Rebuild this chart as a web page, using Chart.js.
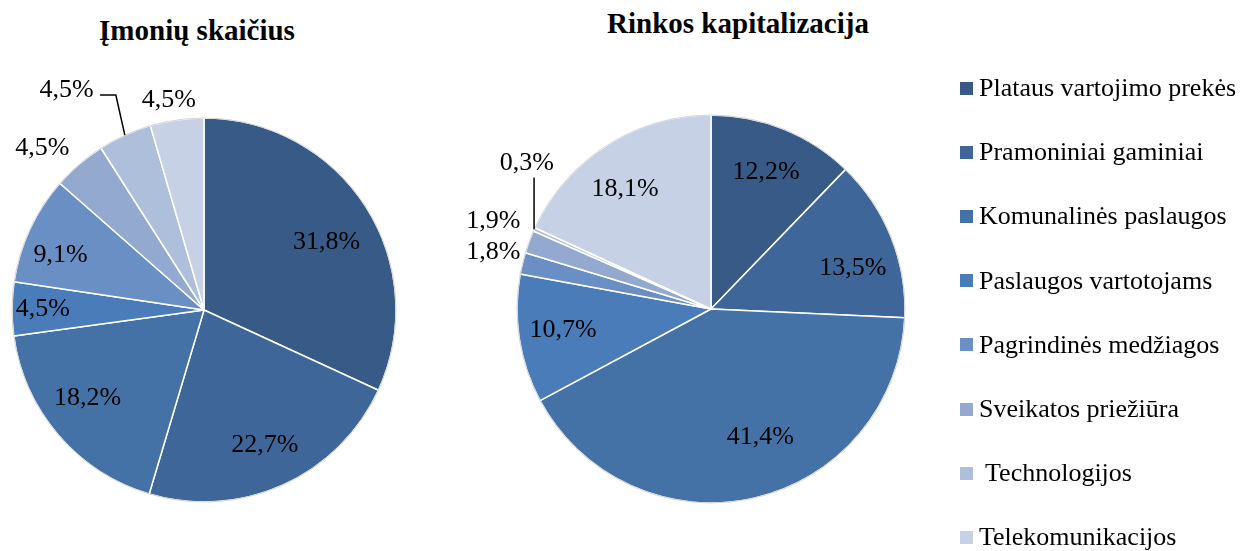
<!DOCTYPE html>
<html>
<head>
<meta charset="utf-8">
<script src="https://cdn.jsdelivr.net/npm/chart.js@4.4.0/dist/chart.umd.min.js"></script>
<style>
  body { margin: 0; background: #fff; width: 1244px; height: 551px; overflow: hidden; position: relative;
         font-family: "Liberation Serif", "Times New Roman", serif; color: #000; }
  .title { position: absolute; font-weight: bold; font-size: 29px; line-height: 29px; white-space: nowrap; transform: translateX(-50%); }
  #leftBox { position: absolute; left: 0; top: 0; width: 408px; height: 551px; }
  #rightBox { position: absolute; left: 460px; top: 0; width: 502px; height: 551px; }
  .legendItem { position: absolute; left: 960px; height: 30px; display: flex; align-items: center; font-size: 26px; line-height: 30px; white-space: pre; }
  .legendItem span.box { width: 13px; height: 13px; margin-right: 6px; flex: none; }
</style>
</head>
<body>
<div class="title" style="left:197px; top:16px;">Įmonių skaičius</div>
<div class="title" style="left:738px; top:9px;">Rinkos kapitalizacija</div>
<div id="leftBox"><canvas id="leftChart"></canvas></div>
<div id="rightBox"><canvas id="rightChart"></canvas></div>
<div id="legend"></div>

<script>
// duomenys
const categories = ['Plataus vartojimo prekės', 'Pramoniniai gaminiai', 'Komunalinės paslaugos',
    'Paslaugos vartotojams', 'Pagrindinės medžiagos', 'Sveikatos priežiūra', ' Technologijos', 'Telekomunikacijos'];
const imoniuSkaicius = [31.8, 22.7, 18.2, 4.5, 9.1, 4.5, 4.5, 4.5];
const rinkosKapitalizacija = [12.2, 13.5, 41.4, 10.7, 1.8, 1.9, 0.3, 18.1];
const sliceColors = ['#375a86', '#3e6699', '#4472a7', '#4a7cb9', '#6a8fc5', '#93a9d0', '#aebfdc', '#c7d1e5'];

// etikečių vietos: rf - atstumas nuo centro spindulio dalimis, ang - kampas nuo viršaus (laipsniais)
const leftPlaces = [
    { rf: 0.73, ang: 61 }, { rf: 0.77 }, { rf: 0.76, ang: 233 }, { rf: 0.84 }, { rf: 0.80, ang: 291 },
    { rf: 1.19, ang: 315 },
    { rf: 1.35, ang: 328, leader: [[1.0, null], [1.21, 337.7], [1.244, 334.2]] },
    { rf: 1.11, ang: 350.5 }
];
const rightPlaces = [
    { rf: 0.76 }, { rf: 0.76, ang: 74 }, { rf: 0.71, ang: 159 }, { rf: 0.77, ang: 262 },
    { rf: 1.16, ang: 284.6 }, { rf: 1.21, ang: 292 },
    { rf: 1.209, ang: 308.3, leader: [[1.0, null], [1.136, 306.6]] },
    { rf: 0.76, ang: 324.3 }
];

// procentų etiketės ir išorinis pilkas kontūras
const pieLabels = {
    id: 'pieLabels',
    afterDatasetsDraw(chart, args, opts) {
        const ctx = chart.ctx;
        const meta = chart.getDatasetMeta(0);
        const values = chart.data.datasets[0].data;
        ctx.save();
        // pilkas kraštas
        const first = meta.data[0];
        ctx.beginPath();
        ctx.arc(first.x, first.y, first.outerRadius, 0, Math.PI * 2);
        ctx.strokeStyle = '#d4d4d4';
        ctx.lineWidth = 1;
        ctx.stroke();

        ctx.font = '26px "Liberation Serif", "Times New Roman", serif';
        ctx.fillStyle = '#000';
        ctx.textAlign = 'center';
        ctx.textBaseline = 'middle';
        meta.data.forEach((arc, i) => {
            const p = arc.getProps(['x', 'y', 'startAngle', 'endAngle', 'outerRadius'], true);
            const mid = (p.startAngle + p.endAngle) / 2;
            const polar = (rf, angDeg) => {
                const a = (angDeg == null) ? mid : (angDeg - 90) * Math.PI / 180;
                return [p.x + Math.cos(a) * p.outerRadius * rf, p.y + Math.sin(a) * p.outerRadius * rf];
            };
            const place = opts.places[i] || { rf: 0.76 };
            if (place.leader) {
                ctx.beginPath();
                place.leader.forEach((pt, k) => {
                    const [lx, ly] = polar(pt[0], pt[1]);
                    if (k === 0) ctx.moveTo(lx, ly); else ctx.lineTo(lx, ly);
                });
                ctx.strokeStyle = '#000';
                ctx.lineWidth = 1.5;
                ctx.stroke();
            }
            const [tx, ty] = polar(place.rf, place.ang);
            ctx.fillText(values[i].toFixed(1).replace('.', ',') + '%', tx, ty);
        });
        ctx.restore();
    }
};

function makePie(canvasId, values, places, radius, padTop) {
    return new Chart(document.getElementById(canvasId).getContext('2d'), {
        type: 'pie',
        data: {
            labels: categories,
            datasets: [{
                data: values,
                backgroundColor: sliceColors,
                borderColor: '#ffffff',
                borderWidth: 1.5,
                hoverOffset: 0
            }]
        },
        options: {
            responsive: true,
            maintainAspectRatio: false,
            animation: false,
            radius: radius,
            layout: { padding: { top: padTop, bottom: 0, left: 0, right: 0 } },
            plugins: {
                legend: { display: false },
                tooltip: { enabled: false },
                pieLabels: { places: places }
            }
        },
        plugins: [pieLabels]
    });
}

makePie('leftChart', imoniuSkaicius, leftPlaces, 192, 69);
makePie('rightChart', rinkosKapitalizacija, rightPlaces, 194, 67);

// legenda
const legend = document.getElementById('legend');
categories.forEach((name, i) => {
    const item = document.createElement('div');
    item.className = 'legendItem';
    item.style.top = (88 + 64.2 * i - 15) + 'px';
    const box = document.createElement('span');
    box.className = 'box';
    box.style.background = sliceColors[i];
    const txt = document.createElement('span');
    txt.textContent = name;
    item.appendChild(box);
    item.appendChild(txt);
    legend.appendChild(item);
});
</script>
</body>
</html>
